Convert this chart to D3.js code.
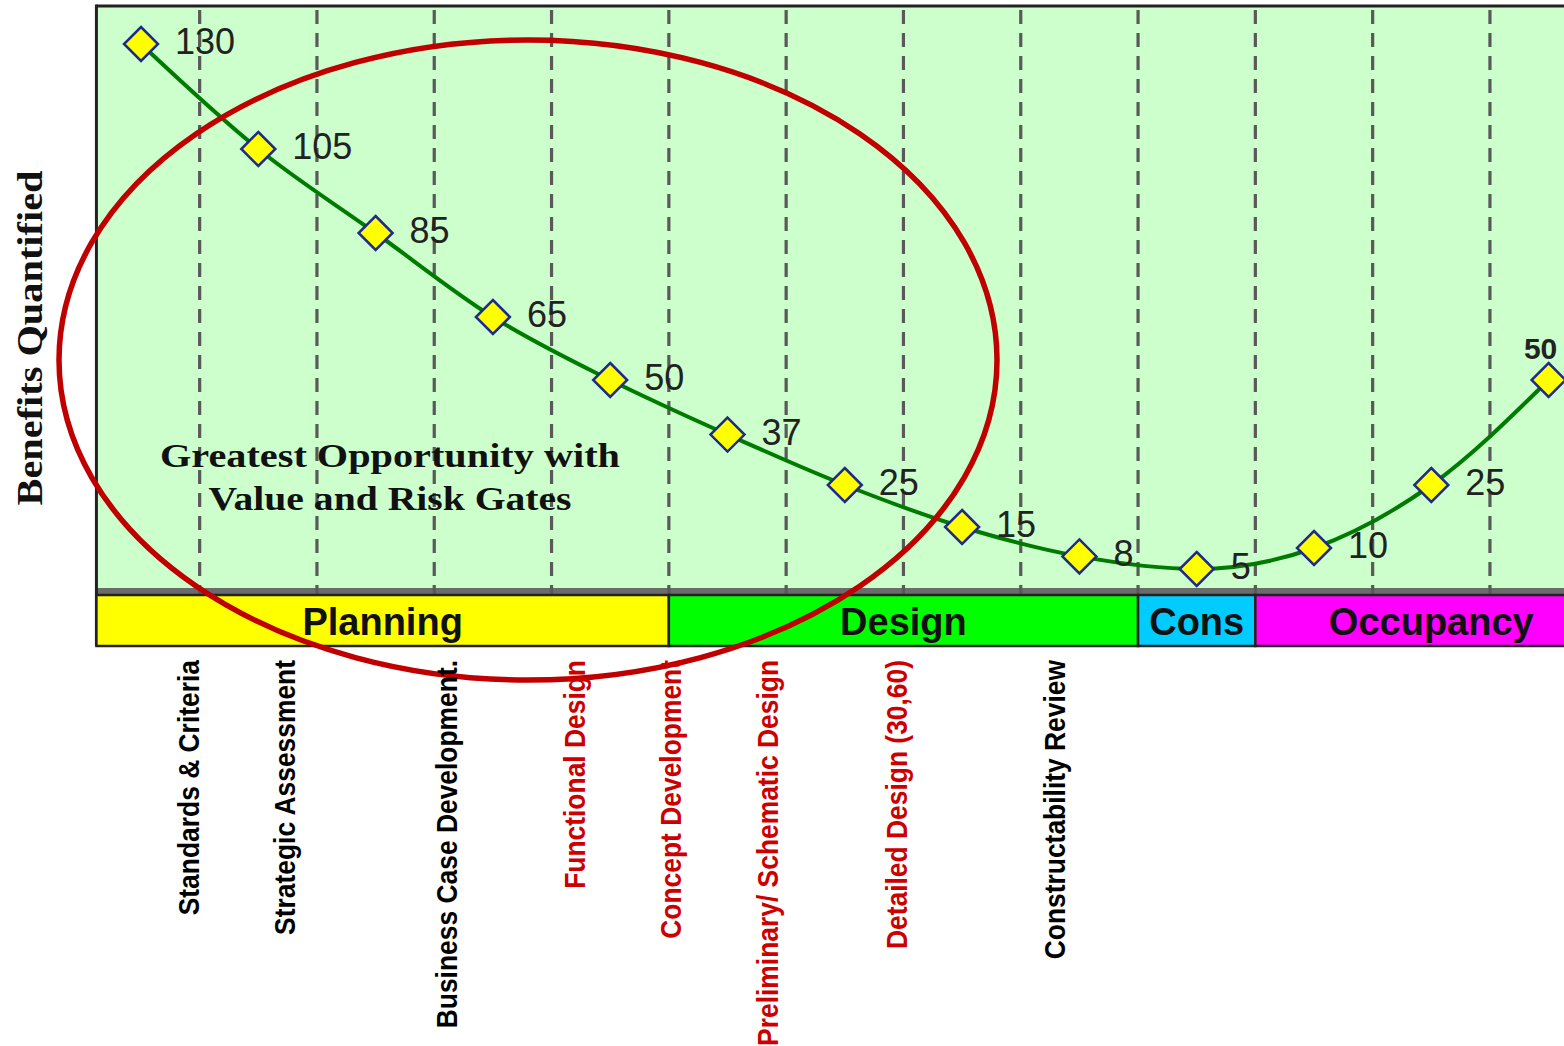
<!DOCTYPE html>
<html>
<head>
<meta charset="utf-8">
<script src="https://cdn.jsdelivr.net/npm/d3@7"></script>
<style>
  html, body { margin: 0; padding: 0; background: #ffffff; overflow: hidden; }
  svg { display: block; }
</style>
</head>
<body>
<svg id="chart" width="1564" height="1046"></svg>
<script>
// ---------------- data ----------------
const steps = [0, 1, 2, 3, 4, 5, 6, 7, 8, 9, 10, 11, 12];
const benefits = [130, 105, 85, 65, 50, 37, 25, 15, 8, 5, 10, 25, 50];

const phaseNames = ["Planning", "Design", "Cons", "Occupancy"];
const phaseFrom = [-0.38, 4.5, 8.5, 9.5];
const phaseTo = [4.5, 8.5, 9.5, 12.5];
const phaseColors = ["#ffff00", "#00ff00", "#00ccff", "#ff00ff"];

const stageLabels = [
  "Standards & Criteria",
  "Strategic Assessment",
  "Business Case Development.",
  "Functional Design",
  "Concept Development",
  "Preliminary/ Schematic Design",
  "Detailed Design (30,60)",
  "Constructability Review"
];
const stageAt = [0.42, 1.24, 2.62, 3.71, 4.53, 5.35, 6.45, 7.80];
const stageHighlight = [false, false, false, true, true, true, true, false];

const yTitle = "Benefits Quantified";
const noteLines = ["Greatest Opportunity with", "Value and Risk Gates"];

// ---------------- layout ----------------
const svg = d3.select("#chart");
const x = d3.scaleLinear().domain([0, 12]).range([141, 1548.6]);
const y = d3.scaleLinear().domain([0, 130]).range([590, 44]);

const plotLeft = x(-0.38);
const plotRight = 1600;
const plotTop = y(139.05);
const plotBottom = 588;
const bandTop = 595, bandBottom = 646;

// plot background
svg.append("rect")
  .attr("x", plotLeft).attr("y", plotTop)
  .attr("width", plotRight - plotLeft).attr("height", plotBottom - plotTop)
  .attr("fill", "#ccffcc");

// gray strip under the plot
svg.append("rect")
  .attr("x", plotLeft).attr("y", plotBottom)
  .attr("width", plotRight - plotLeft).attr("height", bandTop - plotBottom)
  .attr("fill", "#6b6b6b");

// dashed separators
svg.append("g").selectAll("line")
  .data(steps.slice(0, 12))
  .join("line")
  .attr("x1", d => x(d + 0.5)).attr("x2", d => x(d + 0.5))
  .attr("y1", plotTop + 4).attr("y2", bandTop)
  .attr("stroke", "#595959")
  .attr("stroke-width", 3.2)
  .attr("stroke-dasharray", "14 9");

// top & left borders
svg.append("line")
  .attr("x1", plotLeft).attr("x2", plotRight)
  .attr("y1", plotTop).attr("y2", plotTop)
  .attr("stroke", "#222").attr("stroke-width", 3);
svg.append("line")
  .attr("x1", plotLeft).attr("x2", plotLeft)
  .attr("y1", plotTop - 1.5).attr("y2", bandBottom)
  .attr("stroke", "#222").attr("stroke-width", 3);

// curve
const pts = steps.map((s, i) => [s, benefits[i]]);
svg.append("path")
  .datum(pts)
  .attr("fill", "none")
  .attr("stroke", "#007a00")
  .attr("stroke-width", 4)
  .attr("d", d3.line().x(d => x(d[0])).y(d => y(d[1])).curve(d3.curveMonotoneX));

// markers
svg.append("g").selectAll("path")
  .data(pts)
  .join("path")
  .attr("transform", d => `translate(${x(d[0])},${y(d[1])})`)
  .attr("d", "M0,-17L17,0L0,17L-17,0Z")
  .attr("fill", "#ffff00")
  .attr("stroke", "#1f2a8a")
  .attr("stroke-width", 2.5);

// value labels
const last = pts.length - 1;
svg.append("g").selectAll("text")
  .data(pts)
  .join("text")
  .attr("x", (d, i) => i === last ? x(d[0]) - 8 : x(d[0]) + 34)
  .attr("y", (d, i) => i === last ? y(d[1]) - 21 : y(d[1]) + 10)
  .attr("text-anchor", (d, i) => i === last ? "middle" : "start")
  .attr("font-family", "Liberation Sans, Arial, sans-serif")
  .attr("font-size", (d, i) => i === last ? 30 : 36)
  .attr("font-weight", (d, i) => i === last ? "bold" : "normal")
  .attr("fill", "#222")
  .text(d => d[1]);

// phase band
const phases = phaseNames.map((n, i) => ({ n, a: phaseFrom[i], b: phaseTo[i], c: phaseColors[i] }));
svg.append("g").selectAll("rect")
  .data(phases)
  .join("rect")
  .attr("x", d => x(d.a)).attr("y", bandTop)
  .attr("width", d => x(d.b) - x(d.a)).attr("height", bandBottom - bandTop)
  .attr("fill", d => d.c)
  .attr("stroke", "#222").attr("stroke-width", 2.5);

// red ellipse
svg.append("ellipse")
  .attr("cx", 528).attr("cy", 360)
  .attr("rx", 469).attr("ry", 320)
  .attr("fill", "none")
  .attr("stroke", "#c00000")
  .attr("stroke-width", 5.5);

// phase labels (on top of ellipse)
svg.append("g").selectAll("text")
  .data(phases)
  .join("text")
  .attr("x", d => (x(d.a) + x(d.b)) / 2)
  .attr("y", 635)
  .attr("text-anchor", "middle")
  .attr("font-family", "Liberation Sans, Arial, sans-serif")
  .attr("font-weight", "bold")
  .attr("font-size", 38)
  .attr("fill", "#111")
  .text(d => d.n);

// stage labels (rotated)
const stages = svg.append("g").selectAll("text")
  .data(stageLabels.map((t, i) => ({ t, p: stageAt[i], h: stageHighlight[i] })))
  .join("text")
  .attr("transform", d => `translate(${x(d.p) + 9},660) rotate(-90)`)
  .attr("text-anchor", "end")
  .attr("font-family", "Liberation Sans, Arial, sans-serif")
  .attr("font-weight", "bold")
  .attr("font-size", 30)
  .attr("fill", d => d.h ? "#cc0000" : "#000")
  .text(d => d.t);
stages.each(function () {
  const L = this.getComputedTextLength();
  d3.select(this).attr("textLength", L * 0.88).attr("lengthAdjust", "spacingAndGlyphs");
});

// y axis title
svg.append("text")
  .attr("transform", "translate(42,338) rotate(-90)")
  .attr("text-anchor", "middle")
  .attr("font-family", "Liberation Serif, Times New Roman, serif")
  .attr("font-weight", "bold")
  .attr("font-size", 36)
  .attr("fill", "#111")
  .attr("textLength", 335)
  .attr("lengthAdjust", "spacingAndGlyphs")
  .text(yTitle);

// note inside ellipse
svg.append("g").selectAll("text")
  .data(noteLines)
  .join("text")
  .attr("x", 390)
  .attr("y", (d, i) => 467 + i * 43)
  .attr("text-anchor", "middle")
  .attr("font-family", "Liberation Serif, Times New Roman, serif")
  .attr("font-weight", "bold")
  .attr("font-size", 34)
  .attr("fill", "#111")
  .attr("textLength", (d, i) => i === 0 ? 460 : 363)
  .attr("lengthAdjust", "spacingAndGlyphs")
  .text(d => d);
</script>
</body>
</html>
